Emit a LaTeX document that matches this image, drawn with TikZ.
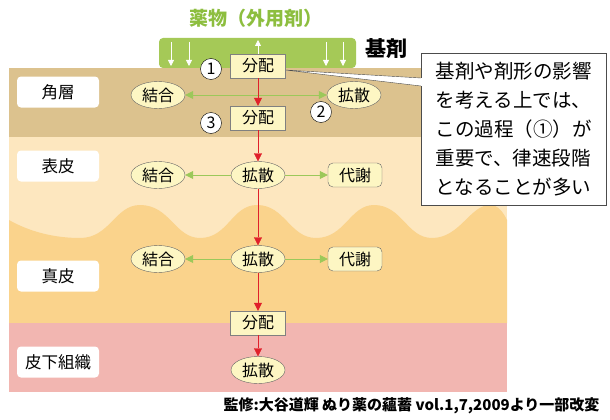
\documentclass[tikz,border=0pt]{standalone}
\usepackage{fontspec}
\setmainfont{Noto Sans CJK JP}
\usetikzlibrary{shapes.geometric,arrows.meta}
\definecolor{horn}{HTML}{DCC28E}
\definecolor{epi}{HTML}{FDE7BF}
\definecolor{derm}{HTML}{FAD38C}
\definecolor{sub}{HTML}{F2B6B1}
\definecolor{gbar}{HTML}{A5C957}
\definecolor{gtxt}{HTML}{8DBE3F}
\definecolor{cream}{HTML}{FDF6C3}
\definecolor{rd}{HTML}{E0202A}
\definecolor{ga}{HTML}{9CC85A}
\tikzset{
 ov/.style={ellipse,draw=black!60,fill=cream,inner sep=0.5pt,minimum width=54pt,minimum height=27pt,font=\fontsize{16}{16}\selectfont},
 rb/.style={rounded corners=5pt,draw=black!60,fill=cream,minimum width=54pt,minimum height=24pt,inner sep=1pt,font=\fontsize{16}{16}\selectfont},
 bx/.style={draw=black!50,fill=cream,minimum width=55pt,minimum height=24pt,inner sep=1pt,font=\fontsize{16}{16}\selectfont},
 lab/.style={rounded corners=4pt,fill=white,minimum width=82pt,minimum height=31pt,font=\fontsize{16.5}{16}\selectfont},
 cn/.style={circle,draw=black,fill=white,inner sep=0pt,minimum size=21pt,font=\fontsize{16}{16}\selectfont},
 ra/.style={draw=rd,-{Triangle[length=8pt,width=8pt]}},
 ga/.style={draw=ga,thick,-{Triangle[length=8pt,width=8pt]}},
 wa/.style={draw=white,thick,-{Triangle[length=6pt,width=6pt]}},
}
\begin{document}
\begin{tikzpicture}[x=1pt,y=-1pt]
\useasboundingbox (0,0) rectangle (610,420);
\fill[white] (0,0) rectangle (610,420);
\fill[horn] (9,68) rectangle (507,137);
\fill[epi] (9,137) rectangle (507,240);
\fill[derm] (9,220) .. controls (30,232) and (55,238) .. (80,238)
  .. controls (110,238) and (115,205) .. (140,205)
  .. controls (170,205) and (175,238) .. (200,238)
  .. controls (228,238) and (232,205) .. (257,205)
  .. controls (285,205) and (290,238) .. (316,238)
  .. controls (345,238) and (350,205) .. (374,205)
  .. controls (402,205) and (407,238) .. (432,238)
  .. controls (460,238) and (470,205) .. (490,205)
  .. controls (498,205) and (503,212) .. (507,220)
  -- (507,323) -- (9,323) -- cycle;
\fill[sub] (9,323) rectangle (507,392);
% top
\node[text=gtxt,font=\bfseries\fontsize{19}{19}\selectfont] (title) at (256,18) {薬物（外用剤）};
\fill[gbar,rounded corners=4pt] (159,38) rectangle (356,68);
\node[font=\bfseries\fontsize{21}{21}\selectfont] (kizai) at (386,49) {基剤};
\foreach \x in {171,189,326,343}{\coordinate (a\x) at (\x,42); \coordinate (b\x) at (\x,66); \draw[wa] (a\x) -- (b\x);}
\coordinate (u1) at (258,58); \coordinate (u2) at (258,40); \draw[wa] (u1) -- (u2);
% callout
\coordinate (p1) at (285,70); \coordinate (p2) at (421,78); \coordinate (p3) at (421,86);
\fill[white] (p1) -- (p2) -- (p3) -- cycle;
\draw[black!70] (p2) -- (p1) -- (p3);
\node[draw=black!70,fill=white,minimum width=185pt,minimum height=152pt,anchor=north west,align=left,inner sep=7pt,font=\fontsize{19.5}{29}\selectfont] (call) at (421,53) {基剤や剤形の影響\\を考える上では、\\この過程（①）が\\重要で、律速段階\\となることが多い};
\fill[white] (420.5,78.4) rectangle (422,85.6);
% labels
\node[lab] (l1) at (58,92) {角層};
\node[lab] (l2) at (58,166) {表皮};
\node[lab] (l3) at (58,276) {真皮};
\node[lab] (l4) at (58,362) {皮下組織};
% row 1
\node[bx] (d1) at (258,66) {分配};
\node[cn] (c1) at (211,69) {1};
\node[ov] (k1) at (158,95) {結合};
\node[ov] (s1) at (354,95) {拡散};
\node[bx] (d2) at (258,118) {分配};
\node[cn] (c2) at (321,112) {2};
\node[cn] (c3) at (211,123) {3};
\draw[draw=ga,thick,{Triangle[length=8pt,width=8pt]}-{Triangle[length=8pt,width=8pt]}] (k1) -- (s1);
\draw[ra] (d1) -- (d2);
% row 2
\node[ov] (s2) at (258,175) {拡散};
\node[ov] (k2) at (158,175) {結合};
\node[rb] (t2) at (355,175) {代謝};
\draw[ra] (d2) -- (s2);
\draw[ga] (s2) -- (k2); \draw[ga] (s2) -- (t2);
% row 3
\node[ov] (s3) at (258,259) {拡散};
\node[ov] (k3) at (158,259) {結合};
\node[rb] (t3) at (355,259) {代謝};
\draw[ra] (s2) -- (s3);
\draw[ga] (s3) -- (k3); \draw[ga] (s3) -- (t3);
% row 4
\node[bx] (d3) at (258,323) {分配};
\node[ov] (s4) at (258,370) {拡散};
\draw[ra] (s3) -- (d3);
\draw[ra] (d3) -- (s4);
\node[anchor=east,font=\bfseries\fontsize{15}{16}\selectfont] (foot) at (603,406) {監修:大谷道輝 ぬり薬の蘊蓄 vol.1,7,2009より一部改変};
\end{tikzpicture}
\end{document}
